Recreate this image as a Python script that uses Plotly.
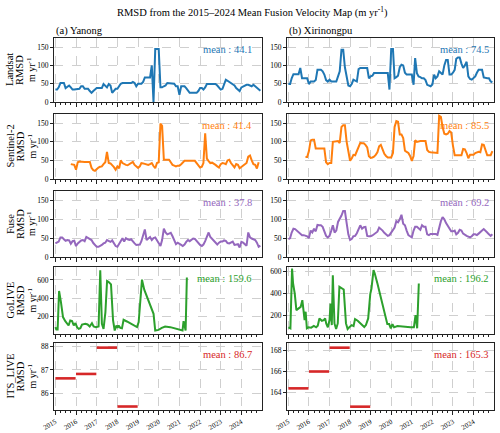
import pandas as pd
import plotly.graph_objects as go
from plotly.subplots import make_subplots

W, H = 500, 433
FONT = "Liberation Serif"

# ---- data ----
months = pd.date_range("2015-01-01", periods=120, freq="MS")

landsat_yanong = [
    34, 34, 40, 52, 52, 52, 38, 42, 45, 40, 34, 34,
    34, 34, 36, 43, 43, 36, 36, 36, 30, 25, 30, 34,
    38, 38, 38, 38, 49, 45, 40, 49, 45, 25, 30, 36,
    36, 45, 50, 52, 52, 52, 52, 52, 52, 55, 52, 43,
    50, 50, 50, 55, 67, 67, 67, 67, 100, 0, 145, 145,
    145, 40, 40, 43, 45, 52, 52, 52, 52, 50, 43, 43,
    20, 43, 43, 43, 38, 31, 25, 25, 25, 25, 25, 30,
    38, 38, 34, 40, 49, 49, 49, 49, 49, 49, 45, 38,
    34, 36, 50, 61, 58, 55, 52, 47, 45, 38, 34, 30,
    40, 43, 45, 47, 47, 45, 43, 47, 43, 40, 34, 31,
]
landsat_xirinongpu = [
    49, 49, 65, 76, 76, 76, 76, 93, 65, 65, 65, 65,
    49, 56, 56, 56, 60, 88, 88, 88, 84, 75, 60, 56,
    61, 56, 56, 56, 56, 70, 84, 143, 143, 95, 70, 45,
    43, 50, 61, 58, 56, 90, 93, 93, 93, 93, 93, 65,
    70, 72, 79, 79, 79, 79, 79, 79, 79, 79, 79, 34,
    145, 145, 65, 68, 72, 95, 102, 100, 80, 75, 75, 75,
    75, 47, 120, 79, 70, 68, 65, 65, 60, 47, 45, 43,
    48, 75, 65, 70, 84, 80, 75, 100, 115, 115, 75, 75,
    80, 88, 118, 122, 122, 105, 93, 100, 110, 70, 63, 61,
    65, 70, 80, 88, 88, 88, 67, 65, 65, 65, 56, 54,
]

# Sentinel-2 starts in late 2015
s2_yanong_start = 9
s2_yanong = [
    40, 40, 38,
    25, 45, 47, 46, 46, 46, 46, 46, 46, 30, 24,
    22, 27, 31, 33, 34, 40, 45, 73, 43, 42, 38, 32,
    25, 34, 29, 50, 43, 40, 38, 37, 40, 43, 46, 38,
    34, 30, 34, 43, 42, 40, 39, 38, 40, 43, 35, 29,
    43, 45, 149, 143, 52, 52, 52, 52, 45, 38, 36, 34,
    36, 36, 40, 45, 49, 49, 49, 49, 49, 49, 49, 43,
    38, 31, 33, 43, 123, 55, 48, 43, 44, 42, 38, 34,
    31, 40, 43, 42, 40, 50, 52, 43, 36, 31, 40, 38,
    29, 33, 36, 40, 43, 60, 63, 50, 40, 38, 28, 45,
]
s2_xirinongpu_start = 10
s2_xirinongpu = [
    59, 59,
    75, 104, 106, 106, 82, 82, 82, 82, 82, 82, 45, 40,
    43, 43, 100, 100, 102, 102, 97, 140, 145, 145, 100, 75,
    49, 56, 65, 64, 74, 85, 97, 96, 96, 92, 85, 61,
    57, 58, 60, 65, 72, 88, 92, 80, 68, 62, 58, 58,
    58, 70, 140, 156, 154, 120, 120, 110, 76, 73, 70, 62,
    49, 62, 104, 100, 102, 102, 102, 102, 102, 78, 73, 72,
    72, 72, 72, 70, 170, 167, 140, 122, 120, 122, 129, 125,
    90, 64, 64, 64, 64, 64, 81, 80, 70, 56, 65, 66,
    65, 70, 72, 73, 72, 93, 92, 80, 64, 64, 64, 75,
]

fuse_yanong = [
    36, 38, 41, 52, 52, 47, 43, 45, 44, 35, 42, 43,
    29, 36, 41, 44, 45, 42, 53, 50, 49, 45, 37, 32,
    27, 27, 29, 32, 36, 38, 45, 42, 40, 44, 38, 29,
    27, 35, 41, 50, 41, 50, 47, 45, 47, 40, 36, 32,
    32, 33, 42, 55, 73, 45, 48, 53, 45, 50, 52, 45,
    36, 29, 45, 75, 65, 60, 62, 64, 55, 42, 34, 38,
    34, 32, 29, 33, 40, 45, 42, 46, 49, 48, 43, 36,
    32, 29, 33, 42, 52, 65, 53, 48, 41, 36, 33, 38,
    41, 41, 44, 43, 37, 36, 38, 41, 32, 33, 34, 25,
    40, 38, 35, 30, 65, 52, 49, 47, 45, 38, 27, 30,
]
fuse_xirinongpu = [
    47, 50, 65, 75, 74, 70, 66, 62, 58, 58, 56, 55,
    50, 70, 65, 75, 68, 85, 84, 84, 80, 70, 56, 52,
    56, 70, 84, 65, 70, 93, 100, 110, 122, 122, 90, 60,
    45, 48, 55, 56, 63, 73, 84, 75, 79, 80, 56, 55,
    55, 57, 60, 64, 67, 78, 75, 70, 64, 60, 56, 58,
    65, 72, 78, 95, 92, 100, 112, 88, 84, 70, 58, 55,
    52, 70, 80, 80, 75, 72, 84, 80, 80, 60, 58, 61,
    61, 61, 61, 59, 80, 95, 106, 100, 90, 82, 76, 68,
    68, 70, 60, 64, 72, 70, 62, 58, 56, 54, 52, 55,
    60, 60, 58, 62, 65, 70, 74, 68, 65, 60, 56, 60,
]

# GoLIVE: irregular acquisition times (decimal years)
golive_yanong_t = [
    2015.00, 2015.05, 2015.11, 2015.18, 2015.27, 2015.37, 2015.48, 2015.56,
    2015.64, 2015.72, 2015.81, 2015.89, 2015.97, 2016.05, 2016.13, 2016.21,
    2016.29, 2016.45, 2016.56, 2016.66, 2016.77, 2016.85, 2016.96, 2017.09,
    2017.17, 2017.25, 2017.33, 2017.42, 2017.50, 2017.58, 2017.69, 2017.79,
    2017.87, 2017.95, 2018.01, 2018.06, 2018.14, 2018.22, 2018.30, 2018.46,
    2018.70, 2018.86, 2018.95, 2019.03, 2019.11, 2019.19, 2019.30, 2019.43,
    2019.59, 2019.75, 2019.83, 2019.99, 2020.15, 2020.31, 2020.56, 2020.80,
    2021.04, 2021.15, 2021.20, 2021.25, 2021.30, 2021.36,
]
golive_yanong = [
    83, 57, 57, 479, 358, 193, 149, 127,
    101, 156, 149, 101, 127, 83, 64, 71,
    112, 119, 112, 90, 127, 90, 83, 90,
    706, 119, 64, 248, 589, 578, 552, 156,
    46, 101, 75, 101, 75, 70, 163, 145,
    119, 101, 83, 138, 413, 604, 494, 413,
    321, 229, 46, 53, 75, 90, 83, 71,
    53, 46, 149, 101, 46, 626,
]
golive_xirinongpu_t = [
    2015.00, 2015.10, 2015.18, 2015.23, 2015.31, 2015.39, 2015.50, 2015.60,
    2015.68, 2015.74, 2015.79, 2015.84, 2015.90, 2015.98, 2016.11, 2016.24,
    2016.35, 2016.43, 2016.51, 2016.63, 2016.72, 2016.79, 2016.84, 2016.92,
    2017.00, 2017.05, 2017.11, 2017.16, 2017.24, 2017.32, 2017.40, 2017.48,
    2017.59, 2017.69, 2017.80, 2017.88, 2017.96, 2018.08, 2018.17, 2018.24,
    2018.37, 2018.53, 2018.69, 2018.77, 2018.88, 2018.98, 2019.04, 2019.14,
    2019.20, 2019.33, 2019.49, 2019.65, 2019.81, 2019.90, 2019.98, 2020.06,
    2020.14, 2020.30, 2020.62, 2020.94, 2021.10, 2021.18, 2021.26, 2021.34,
]
golive_xirinongpu = [
    96, 87, 625, 490, 400, 250, 266, 280,
    340, 250, 161, 236, 87, 96, 93, 108,
    96, 110, 176, 155, 161, 176, 131, 96,
    161, 310, 116, 564, 131, 81, 131, 460,
    445, 436, 131, 81, 96, 116, 107, 170,
    155, 131, 99, 116, 176, 394, 445, 609,
    580, 490, 370, 250, 125, 125, 87, 125,
    96, 108, 99, 96, 96, 206, 87, 490,
]

# ITS_LIVE annual mosaics
its_years = [2015, 2016, 2017, 2018]
its_yanong = [86.64, 86.83, 87.96, 85.43]
its_xirinongpu = [164.38, 166.0, 168.29, 162.62]

sources = ["Landsat", "Sentinel-2", "Fuse", "GoLIVE", "ITS_LIVE"]
colors = ["#1f77b4", "#ff7f0e", "#9467bd", "#2ca02c", "#d62728"]
means_yanong = [44.1, 41.4, 37.8, 159.6, 86.7]
means_xirinongpu = [74.5, 85.5, 69.2, 196.2, 165.3]
site_titles = ["(a) Yanong", "(b) Xirinongpu"]


def dec_to_date(years):
    out = []
    for y in years:
        yr = int(y)
        out.append(pd.Timestamp(f"{yr}-01-01") + pd.Timedelta(days=(y - yr) * 365.25))
    return out


def its_segments(years, vals):
    xs, ys = [], []
    for yr, v in zip(years, vals):
        xs += [pd.Timestamp(f"{yr}-01-01"), pd.Timestamp(f"{yr}-12-25"), None]
        ys += [v, v, None]
    return xs, ys


series = [
    [
        (months, landsat_yanong),
        (months[s2_yanong_start:], s2_yanong),
        (months, fuse_yanong),
        (dec_to_date(golive_yanong_t), golive_yanong),
        its_segments(its_years, its_yanong),
    ],
    [
        (months, landsat_xirinongpu),
        (months[s2_xirinongpu_start:], s2_xirinongpu),
        (months, fuse_xirinongpu),
        (dec_to_date(golive_xirinongpu_t), golive_xirinongpu),
        its_segments(its_years, its_xirinongpu),
    ],
]
means = [means_yanong, means_xirinongpu]

# ---- layout in pixels ----
col_px = [(54, 262), (287, 494)]
row_px = [(38, 102), (114, 179), (191, 257), (267, 334), (343, 410)]

y_ranges = [
    [[0, 175], [0, 175], [0, 175], [8, 742], [85.28, 88.16]],
    [[0, 175], [0, 175], [0, 175], [36, 638], [162.3, 168.74]],
]
y_ticks = [
    [[0, 50, 100, 150]] * 3 + [[200, 400, 600], [86, 87, 88]],
    [[0, 50, 100, 150]] * 3 + [[200, 400, 600], [164, 166, 168]],
]


def px_x(x):
    return x / W


def px_y(y):
    return 1 - y / H


fig = make_subplots(rows=5, cols=2)

annotations = []
for c in range(2):
    for r in range(5):
        xs, ys = series[c][r]
        fig.add_trace(
            go.Scatter(
                x=xs, y=ys, mode="lines",
                line=dict(color=colors[r], width=2.6 if r == 4 else 2),
                showlegend=False, connectgaps=False,
            ),
            row=r + 1, col=c + 1,
        )
        x0, x1 = col_px[c]
        y0, y1 = row_px[r]
        fig.update_xaxes(domain=[px_x(x0), px_x(x1)], row=r + 1, col=c + 1)
        fig.update_yaxes(
            domain=[px_y(y1), px_y(y0)], range=y_ranges[c][r],
            tickvals=y_ticks[c][r], row=r + 1, col=c + 1,
        )
        annotations.append(dict(
            text=f"mean : {means[c][r]}", x=px_x(254 if c == 0 else 491),
            y=px_y(y0 + 11.5), xref="paper", yref="paper",
            xanchor="right", yanchor="middle", showarrow=False,
            font=dict(size=10.5, color=colors[r], family=FONT),
        ))

# y labels (left column only)
for r, name in enumerate(sources):
    yc = px_y(sum(row_px[r]) / 2)
    for text, xp, size in [(name, 10, 10.5), ("RMSD", 20, 10.5), ("m yr<sup>-1</sup>", 31, 10)]:
        annotations.append(dict(
            text=text, x=px_x(xp), y=yc, xref="paper", yref="paper",
            xanchor="center", yanchor="middle", textangle=-90, showarrow=False,
            font=dict(size=size, color="black", family=FONT),
        ))

for c, t in enumerate(site_titles):
    annotations.append(dict(
        text=t, x=px_x(col_px[c][0]), y=px_y(31), xref="paper", yref="paper",
        xanchor="left", yanchor="middle", showarrow=False,
        font=dict(size=10.5, color="black", family=FONT),
    ))

annotations.append(dict(
    text="RMSD from the 2015\u20132024 Mean Fusion Velocity Map (m yr<sup>-1</sup>)",
    x=px_x(252), y=px_y(12), xref="paper", yref="paper",
    xanchor="center", yanchor="middle", showarrow=False,
    font=dict(size=10.5, color="black", family=FONT),
))

fig.update_xaxes(
    type="date", range=["2014-12-08", "2024-12-30"],
    tick0="2015-01-01", dtick="M12", tickformat="%Y",
    showgrid=True, gridcolor="#cfcfcf", griddash="dash", gridwidth=0.8,
    showline=True, linecolor="#222222", linewidth=1, mirror=True,
    ticks="outside", ticklen=4, tickcolor="#222222",
    minor=dict(dtick="M3", tick0="2015-01-01", ticks="outside", ticklen=2,
               tickcolor="#222222", showgrid=False),
    tickangle=-30, tickfont=dict(size=7, family=FONT, color="black"),
    showticklabels=False, zeroline=False, automargin=False,
)
fig.update_xaxes(showticklabels=True, row=5)

fig.update_yaxes(
    showgrid=True, gridcolor="#cfcfcf", griddash="dash", gridwidth=0.8,
    showline=True, linecolor="#222222", linewidth=1, mirror=True,
    ticks="outside", ticklen=3, tickcolor="#222222",
    tickfont=dict(size=7.5, family=FONT, color="black"),
    zeroline=False, automargin=False,
)

fig.update_layout(
    width=W, height=H,
    margin=dict(l=0, r=0, t=0, b=0),
    paper_bgcolor="white", plot_bgcolor="white",
    font=dict(family=FONT, color="black"),
    annotations=annotations,
    showlegend=False,
)

# the page body has a default 8px margin; drop it so the figure fills the window
fig.write_html(
    "out.html",
    config={"displayModeBar": False},
    post_script="document.body.style.margin='0';",
)
